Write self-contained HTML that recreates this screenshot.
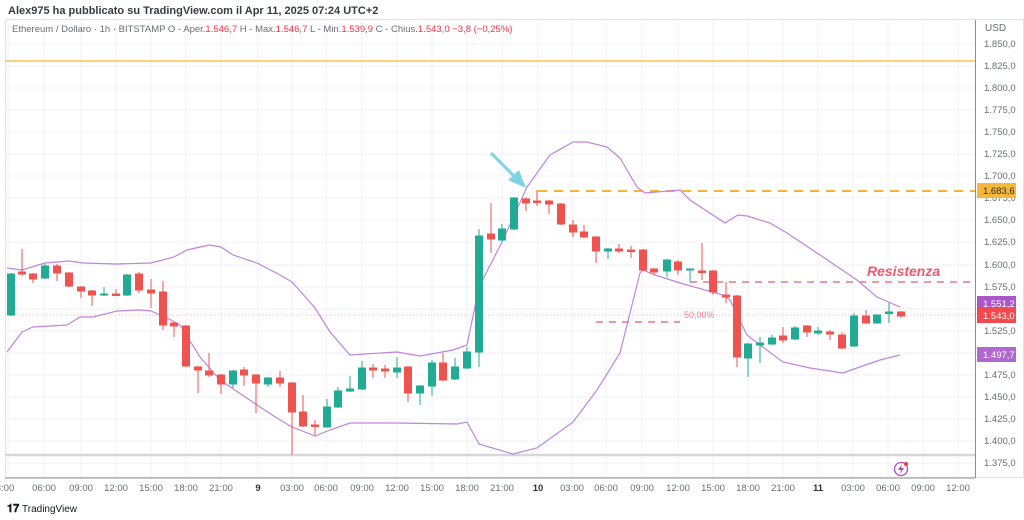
<!DOCTYPE html>
<html><head><meta charset="utf-8"><style>
html,body{margin:0;padding:0;background:#fff;width:1024px;height:520px;overflow:hidden;font-family:"Liberation Sans",sans-serif}
svg{display:block}
</style></head><body>
<svg width="1024" height="520" viewBox="0 0 1024 520" xmlns="http://www.w3.org/2000/svg" font-family="Liberation Sans, sans-serif">
<rect width="1024" height="520" fill="#fff"/>
<text x="8" y="14" font-size="11" fill="#131722" font-weight="bold" opacity="0.85">Alex975 ha pubblicato su TradingView.com il Apr 11, 2025 07:24 UTC+2</text>
<rect x="5.5" y="19.5" width="1018" height="458" fill="none" stroke="#e0e3eb"/>
<!-- grid -->
<g stroke="#f0f1f4" stroke-width="1">
<line x1="8" y1="20" x2="8" y2="477"/><line x1="44" y1="20" x2="44" y2="477"/><line x1="81" y1="20" x2="81" y2="477"/><line x1="116" y1="20" x2="116" y2="477"/><line x1="151" y1="20" x2="151" y2="477"/><line x1="186" y1="20" x2="186" y2="477"/><line x1="221" y1="20" x2="221" y2="477"/><line x1="258" y1="20" x2="258" y2="477"/><line x1="292" y1="20" x2="292" y2="477"/><line x1="326" y1="20" x2="326" y2="477"/><line x1="362" y1="20" x2="362" y2="477"/><line x1="397" y1="20" x2="397" y2="477"/><line x1="432" y1="20" x2="432" y2="477"/><line x1="467" y1="20" x2="467" y2="477"/><line x1="502" y1="20" x2="502" y2="477"/><line x1="538" y1="20" x2="538" y2="477"/><line x1="572" y1="20" x2="572" y2="477"/><line x1="606" y1="20" x2="606" y2="477"/><line x1="642" y1="20" x2="642" y2="477"/><line x1="678" y1="20" x2="678" y2="477"/><line x1="713" y1="20" x2="713" y2="477"/><line x1="748" y1="20" x2="748" y2="477"/><line x1="783" y1="20" x2="783" y2="477"/><line x1="818" y1="20" x2="818" y2="477"/><line x1="853" y1="20" x2="853" y2="477"/><line x1="888" y1="20" x2="888" y2="477"/><line x1="923" y1="20" x2="923" y2="477"/><line x1="958" y1="20" x2="958" y2="477"/>
<line x1="5" y1="44" x2="975" y2="44"/><line x1="5" y1="66" x2="975" y2="66"/><line x1="5" y1="88" x2="975" y2="88"/><line x1="5" y1="110" x2="975" y2="110"/><line x1="5" y1="132" x2="975" y2="132"/><line x1="5" y1="154" x2="975" y2="154"/><line x1="5" y1="176" x2="975" y2="176"/><line x1="5" y1="198" x2="975" y2="198"/><line x1="5" y1="220" x2="975" y2="220"/><line x1="5" y1="242" x2="975" y2="242"/><line x1="5" y1="265" x2="975" y2="265"/><line x1="5" y1="287" x2="975" y2="287"/><line x1="5" y1="309" x2="975" y2="309"/><line x1="5" y1="331" x2="975" y2="331"/><line x1="5" y1="353" x2="975" y2="353"/><line x1="5" y1="375" x2="975" y2="375"/><line x1="5" y1="397" x2="975" y2="397"/><line x1="5" y1="419" x2="975" y2="419"/><line x1="5" y1="441" x2="975" y2="441"/><line x1="5" y1="463" x2="975" y2="463"/>
</g>
<text x="12" y="32" font-size="9.5" fill="#6a6d78">Ethereum / Dollaro · 1h · BITSTAMP  O - Aper.<tspan fill="#f23645">1.546,7</tspan>  H - Max.<tspan fill="#f23645">1.546,7</tspan>  L - Min.<tspan fill="#f23645">1.539,9</tspan>  C - Chius.<tspan fill="#f23645">1.543,0  −3,8 (−0,25%)</tspan></text>
<!-- horizontal lines -->
<line x1="5" y1="61" x2="975" y2="61" stroke="#f5b731" stroke-width="1.3"/>
<line x1="5" y1="455" x2="975" y2="455" stroke="#d6d7db" stroke-width="2.5"/>
<line x1="5" y1="315" x2="975" y2="315" stroke="#f3a0a7" stroke-width="0.8" stroke-dasharray="1,2"/>
<line x1="538" y1="191" x2="975" y2="191" stroke="#f5b731" stroke-width="2" stroke-dasharray="9,7"/>
<line x1="690" y1="282" x2="975" y2="282" stroke="#e4798a" stroke-width="1.6" stroke-dasharray="7,6"/>
<line x1="596" y1="322" x2="680" y2="322" stroke="#e4798a" stroke-width="1.6" stroke-dasharray="7,6"/>
<text x="684" y="318" font-size="9" fill="#f07f8c">50,00%</text>
<text x="867" y="276" font-size="14" font-weight="bold" font-style="italic" fill="#ec5a6e">Resistenza</text>
<!-- bands -->
<polyline fill="none" stroke="#c084dc" stroke-width="1.2" points="7,268 22,270 45,263 69,261 83,263 116,264 151,263 174,257 187,250 209,245 221,247 233,255 257,263 280,275 292,282 315,308 330,332 350,355 397,352 420,356 453,350 467,345 479,287 503,240 527,187 550,155 573,142 587,142 607,147 620,158 637,187 645,193 680,190 690,200 725,223 738,215 747,216 770,223 787,233 820,255 857,280 877,297 900,307"/>
<polyline fill="none" stroke="#c084dc" stroke-width="1.2" points="7,352 22,332 33,327 67,325 80,317 93,317 117,311 140,310 151,311 167,318 180,325 200,357 220,380 257,405 280,420 292,427 315,436 330,430 350,423 397,423 457,424 467,422 479,444 513,454 537,448 573,422 597,390 620,353 640,273 645,267"/>
<polyline fill="none" stroke="#c084dc" stroke-width="1.2" points="643,270 655,275 680,283 723,295 730,300 747,335 760,345 783,362 810,368 843,373 857,368 880,360 900,355"/>
<!-- candles -->
<g id="c" stroke-width="1">
<g stroke="#22ab94" fill="#22ab94">
<line x1="11" y1="273" x2="11" y2="316"/><rect x="7.5" y="274" width="7" height="41"/>
<line x1="45" y1="264" x2="45" y2="279"/><rect x="41.5" y="266" width="7" height="12"/>
<line x1="104" y1="287" x2="104" y2="296"/><rect x="100.5" y="294" width="7" height="1"/>
<line x1="127" y1="274" x2="127" y2="296"/><rect x="123.5" y="275" width="7" height="20"/>
<line x1="233" y1="370" x2="233" y2="388"/><rect x="229.5" y="371" width="7" height="13"/>
<line x1="268" y1="377" x2="268" y2="387"/><rect x="264.5" y="378" width="7" height="6"/>
<line x1="327" y1="399" x2="327" y2="428"/><rect x="323.5" y="407" width="7" height="20"/>
<line x1="338" y1="387" x2="338" y2="408"/><rect x="334.5" y="391" width="7" height="16"/>
<line x1="350" y1="376" x2="350" y2="392"/><rect x="346.5" y="389" width="7" height="2"/>
<line x1="362" y1="361" x2="362" y2="390"/><rect x="358.5" y="368" width="7" height="21"/>
<line x1="397" y1="357" x2="397" y2="378"/><rect x="393.5" y="368" width="7" height="4"/>
<line x1="420" y1="385" x2="420" y2="405"/><rect x="416.5" y="386" width="7" height="7"/>
<line x1="432" y1="360" x2="432" y2="396"/><rect x="428.5" y="363" width="7" height="23"/>
<line x1="455" y1="358" x2="455" y2="380"/><rect x="451.5" y="367" width="7" height="12"/>
<line x1="467" y1="347" x2="467" y2="369"/><rect x="463.5" y="352" width="7" height="16"/>
<line x1="479" y1="229" x2="479" y2="367"/><rect x="475.5" y="236" width="7" height="116"/>
<line x1="502" y1="224" x2="502" y2="241"/><rect x="498.5" y="229" width="7" height="11"/>
<line x1="514" y1="197" x2="514" y2="230"/><rect x="510.5" y="198" width="7" height="31"/>
<line x1="608" y1="248" x2="608" y2="259"/><rect x="604.5" y="249" width="7" height="2"/>
<line x1="667" y1="259" x2="667" y2="277"/><rect x="663.5" y="260" width="7" height="11"/>
<line x1="690" y1="269" x2="690" y2="282"/><rect x="686.5" y="269" width="7" height="1"/>
<line x1="748" y1="343" x2="748" y2="377"/><rect x="744.5" y="344" width="7" height="14"/>
<line x1="760" y1="337" x2="760" y2="363"/><rect x="756.5" y="343" width="7" height="2"/>
<line x1="772" y1="335" x2="772" y2="345"/><rect x="768.5" y="338" width="7" height="6"/>
<line x1="795" y1="326" x2="795" y2="340"/><rect x="791.5" y="328" width="7" height="11"/>
<line x1="818" y1="327" x2="818" y2="335"/><rect x="814.5" y="331" width="7" height="2"/>
<line x1="854" y1="313" x2="854" y2="347"/><rect x="850.5" y="316" width="7" height="30"/>
<line x1="877" y1="314" x2="877" y2="324"/><rect x="873.5" y="315" width="7" height="8"/>
<line x1="889" y1="303" x2="889" y2="323"/><rect x="885.5" y="312" width="7" height="1.5"/>
</g>
<g stroke="#ef5350" fill="#ef5350">
<line x1="22" y1="249" x2="22" y2="276"/><rect x="18.5" y="272" width="7" height="2"/>
<line x1="33" y1="273" x2="33" y2="283"/><rect x="29.5" y="274" width="7" height="5"/>
<line x1="57" y1="264" x2="57" y2="281"/><rect x="53.5" y="266" width="7" height="7"/>
<line x1="69" y1="272" x2="69" y2="287"/><rect x="65.5" y="273" width="7" height="13"/>
<line x1="81" y1="286" x2="81" y2="298"/><rect x="77.5" y="287" width="7" height="4"/>
<line x1="92" y1="290" x2="92" y2="306"/><rect x="88.5" y="291" width="7" height="4"/>
<line x1="116" y1="289" x2="116" y2="296"/><rect x="112.5" y="294" width="7" height="1.5"/>
<line x1="139" y1="272" x2="139" y2="293"/><rect x="135.5" y="274" width="7" height="16"/>
<line x1="151" y1="279" x2="151" y2="308"/><rect x="147.5" y="290" width="7" height="3"/>
<line x1="163" y1="281" x2="163" y2="330"/><rect x="159.5" y="292" width="7" height="33"/>
<line x1="174" y1="322" x2="174" y2="337"/><rect x="170.5" y="323" width="7" height="3"/>
<line x1="186" y1="325" x2="186" y2="367"/><rect x="182.5" y="326" width="7" height="40"/>
<line x1="198" y1="366" x2="198" y2="393"/><rect x="194.5" y="367" width="7" height="3"/>
<line x1="209" y1="353" x2="209" y2="377"/><rect x="205.5" y="371" width="7" height="4"/>
<line x1="221" y1="374" x2="221" y2="394"/><rect x="217.5" y="375" width="7" height="9"/>
<line x1="244" y1="367" x2="244" y2="386"/><rect x="240.5" y="370" width="7" height="5"/>
<line x1="256" y1="374" x2="256" y2="413"/><rect x="252.5" y="375" width="7" height="8"/>
<line x1="280" y1="371" x2="280" y2="387"/><rect x="276.5" y="378" width="7" height="5"/>
<line x1="292" y1="382" x2="292" y2="455"/><rect x="288.5" y="383" width="7" height="29"/>
<line x1="303" y1="395" x2="303" y2="427"/><rect x="299.5" y="412" width="7" height="14"/>
<line x1="315" y1="420" x2="315" y2="435"/><rect x="311.5" y="425" width="7" height="1.5"/>
<line x1="373" y1="364" x2="373" y2="378"/><rect x="369.5" y="368" width="7" height="2"/>
<line x1="385" y1="365" x2="385" y2="378"/><rect x="381.5" y="369" width="7" height="2"/>
<line x1="408" y1="366" x2="408" y2="402"/><rect x="404.5" y="367" width="7" height="26"/>
<line x1="443" y1="353" x2="443" y2="381"/><rect x="439.5" y="363" width="7" height="17"/>
<line x1="491" y1="203" x2="491" y2="253"/><rect x="487.5" y="234" width="7" height="5"/>
<line x1="526" y1="197" x2="526" y2="211"/><rect x="522.5" y="199" width="7" height="4"/>
<line x1="537" y1="190" x2="537" y2="206"/><rect x="533.5" y="201" width="7" height="1.5"/>
<line x1="549" y1="200" x2="549" y2="214"/><rect x="545.5" y="201" width="7" height="3"/>
<line x1="561" y1="203" x2="561" y2="225"/><rect x="557.5" y="204" width="7" height="20"/>
<line x1="573" y1="220" x2="573" y2="237"/><rect x="569.5" y="225" width="7" height="7"/>
<line x1="584" y1="225" x2="584" y2="238"/><rect x="580.5" y="232" width="7" height="5"/>
<line x1="596" y1="236" x2="596" y2="263"/><rect x="592.5" y="237" width="7" height="14"/>
<line x1="619" y1="244" x2="619" y2="253"/><rect x="615.5" y="249" width="7" height="2"/>
<line x1="631" y1="246" x2="631" y2="258"/><rect x="627.5" y="250" width="7" height="1.5"/>
<line x1="643" y1="249" x2="643" y2="271"/><rect x="639.5" y="250" width="7" height="20"/>
<line x1="654" y1="268" x2="654" y2="275"/><rect x="650.5" y="269" width="7" height="3"/>
<line x1="678" y1="260" x2="678" y2="275"/><rect x="674.5" y="262" width="7" height="8"/>
<line x1="702" y1="243" x2="702" y2="280"/><rect x="698.5" y="271" width="7" height="1.5"/>
<line x1="713" y1="270" x2="713" y2="295"/><rect x="709.5" y="271" width="7" height="21"/>
<line x1="726" y1="282" x2="726" y2="303"/><rect x="722.5" y="295" width="7" height="2"/>
<line x1="737" y1="295" x2="737" y2="367"/><rect x="733.5" y="296" width="7" height="61"/>
<line x1="783" y1="327" x2="783" y2="343"/><rect x="779.5" y="336" width="7" height="4"/>
<line x1="807" y1="325" x2="807" y2="337"/><rect x="803.5" y="326" width="7" height="6"/>
<line x1="830" y1="330" x2="830" y2="340"/><rect x="826.5" y="332" width="7" height="2"/>
<line x1="842" y1="332" x2="842" y2="349"/><rect x="838.5" y="335" width="7" height="13"/>
<line x1="866" y1="310" x2="866" y2="324"/><rect x="862.5" y="316" width="7" height="7"/>
<line x1="901" y1="311" x2="901" y2="318"/><rect x="897.5" y="312" width="7" height="4"/>
</g>
</g>
<!-- cyan arrow -->
<line x1="491" y1="153" x2="516" y2="178" stroke="#7dd3e3" stroke-width="3"/>
<polygon points="526,188 508,180 519,170" fill="#7dd3e3"/>
<!-- right axis -->
<line x1="975.5" y1="20" x2="975.5" y2="478" stroke="#8a8d96" stroke-width="1"/>
<line x1="5" y1="478" x2="975" y2="478" stroke="#8a8d96" stroke-width="1"/>
<g font-size="9.5" fill="#6a6d78">
<text x="985" y="31" font-size="10">USD</text>
<text x="984" y="47">1.850,0</text><text x="984" y="69">1.825,0</text><text x="984" y="91">1.800,0</text><text x="984" y="113">1.775,0</text><text x="984" y="135">1.750,0</text><text x="984" y="157">1.725,0</text><text x="984" y="179">1.700,0</text><text x="984" y="201">1.675,0</text><text x="984" y="223">1.650,0</text><text x="984" y="245">1.625,0</text><text x="984" y="268">1.600,0</text><text x="984" y="290">1.575,0</text><text x="984" y="334">1.525,0</text><text x="984" y="356">1.500,0</text><text x="984" y="378">1.475,0</text><text x="984" y="400">1.450,0</text><text x="984" y="422">1.425,0</text><text x="984" y="444">1.400,0</text><text x="984" y="466">1.375,0</text>
</g>
<rect x="977" y="183" width="39" height="15" fill="#f6b83a"/><text x="983" y="194" font-size="9.5" fill="#3a2e10">1.683,6</text>
<rect x="977" y="296" width="39" height="14" fill="#a957c8"/><text x="983" y="307" font-size="9.5" fill="#fff">1.551,2</text>
<rect x="977" y="308" width="39" height="15" fill="#f04a4f"/><text x="983" y="319" font-size="9.5" fill="#fff">1.543,0</text>
<rect x="977" y="347" width="39" height="15" fill="#b067cf"/><text x="983" y="358" font-size="9.5" fill="#fff">1.497,7</text>
<!-- lightning icon -->
<circle cx="901" cy="469" r="6.5" fill="none" stroke="#a24fc4" stroke-width="1.3"/>
<path d="M902,464 L898,470 L901,470 L900,474 L904,468 L901,468 Z" fill="#a24fc4"/>
<circle cx="906" cy="464" r="2" fill="#f23645"/>
<!-- time axis -->
<g font-size="9.5" fill="#6a6d78" text-anchor="middle">
<text x="5" y="491">3:00</text><text x="44" y="491">06:00</text><text x="81" y="491">09:00</text><text x="116" y="491">12:00</text><text x="151" y="491">15:00</text><text x="186" y="491">18:00</text><text x="221" y="491">21:00</text><text x="258" y="491" font-weight="bold" fill="#333">9</text><text x="292" y="491">03:00</text><text x="326" y="491">06:00</text><text x="362" y="491">09:00</text><text x="397" y="491">12:00</text><text x="432" y="491">15:00</text><text x="467" y="491">18:00</text><text x="502" y="491">21:00</text><text x="538" y="491" font-weight="bold" fill="#333">10</text><text x="572" y="491">03:00</text><text x="606" y="491">06:00</text><text x="642" y="491">09:00</text><text x="678" y="491">12:00</text><text x="713" y="491">15:00</text><text x="748" y="491">18:00</text><text x="783" y="491">21:00</text><text x="818" y="491" font-weight="bold" fill="#333">11</text><text x="853" y="491">03:00</text><text x="888" y="491">06:00</text><text x="923" y="491">09:00</text><text x="958" y="491">12:00</text>
</g>
<text x="7" y="512" font-size="11" font-weight="bold" fill="#131722">𝟏𝟕</text>
<text x="22" y="512" font-size="10" fill="#131722">TradingView</text>
</svg>
</body></html>
